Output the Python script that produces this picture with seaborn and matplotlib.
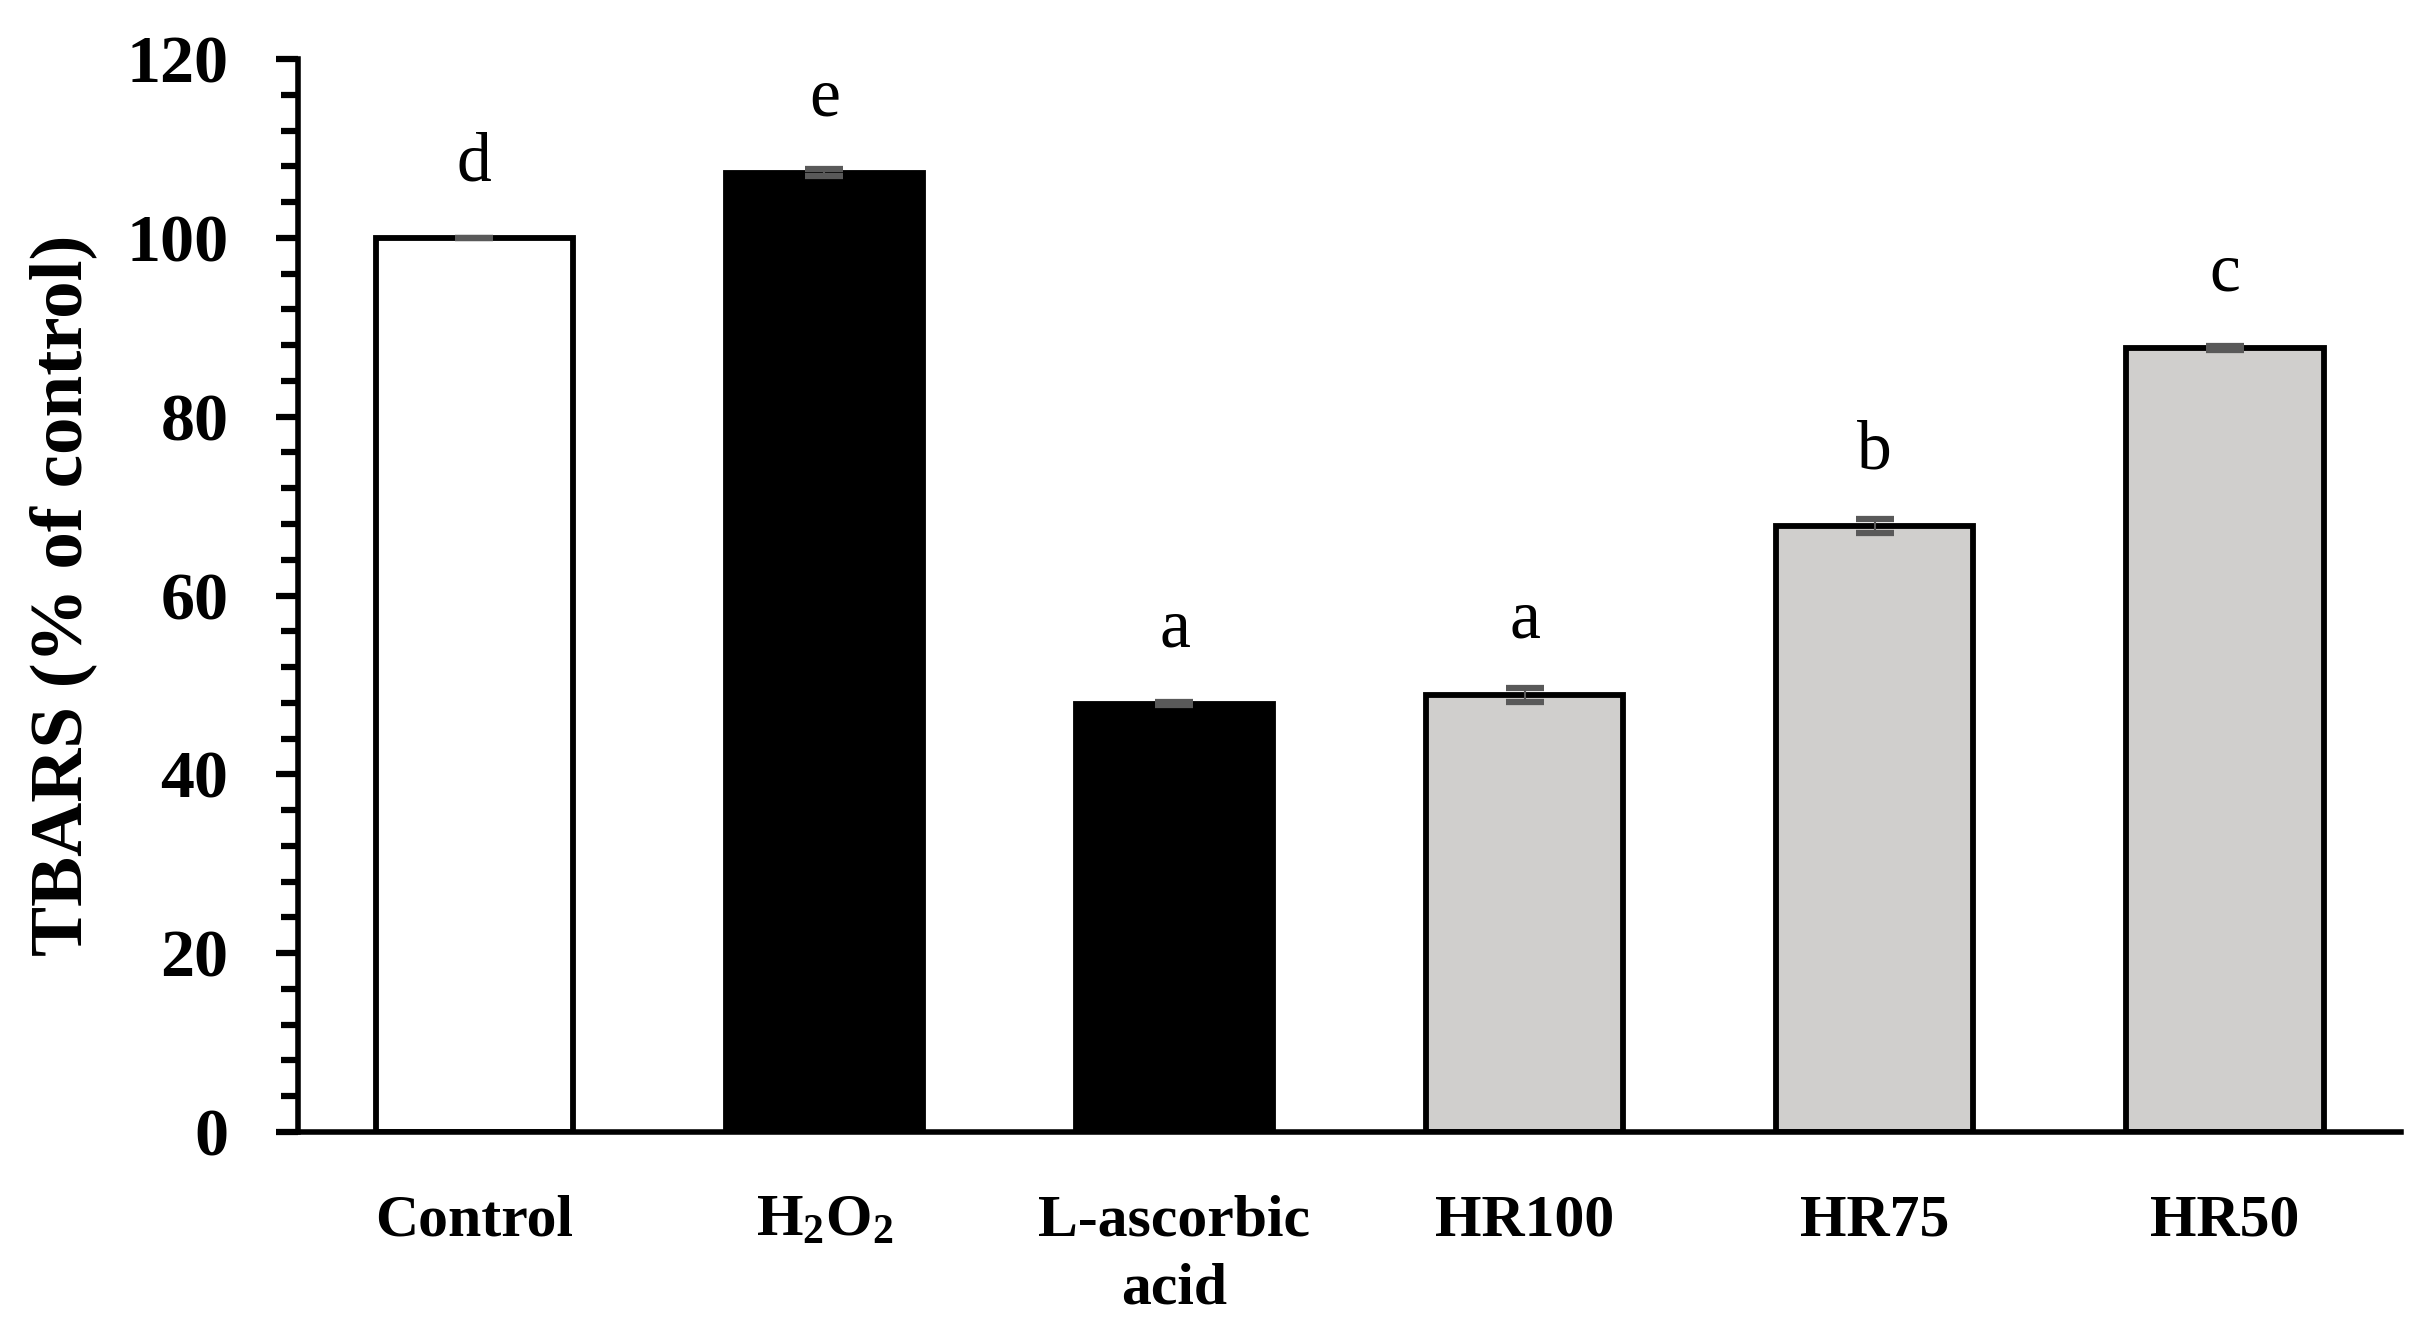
import numpy as np
import pandas as pd
import seaborn as sns
import matplotlib.pyplot as plt
from matplotlib.ticker import MultipleLocator

# data
groups = ["Control", r"$\mathbf{H_2O_2}$", "L-ascorbic\nacid", "HR100", "HR75", "HR50"]
tbars = [100.0, 107.3, 47.9, 48.9, 67.8, 87.7]
sd = [0.0, 0.35, 0.2, 0.8, 0.8, 0.2]
letters = ["d", "e", "a", "a", "b", "c"]
bar_colors = ["white", "black", "black", "#D0CFCD", "#D0CFCD", "#D0CFCD"]

sns.set_style("ticks")
plt.rcParams["font.family"] = ["Liberation Serif", "DejaVu Serif"]
plt.rcParams["mathtext.fontset"] = "custom"
plt.rcParams["mathtext.rm"] = "Liberation Serif"
plt.rcParams["mathtext.bf"] = "Liberation Serif:bold"
for k in ["text.color", "axes.labelcolor", "xtick.color", "ytick.color", "axes.edgecolor"]:
    plt.rcParams[k] = "black"

df = pd.DataFrame({"group": groups, "tbars": tbars})

fig = plt.figure(figsize=(24.31, 13.42), dpi=100)
ax = fig.add_axes([0.1226, 0.1565, 0.8651, 0.7995])

sns.barplot(data=df, x="group", y="tbars", hue="group", palette=bar_colors,
            legend=False, errorbar=None, width=0.563, saturation=1,
            edgecolor="black", linewidth=4.2, ax=ax)

ax.errorbar(np.arange(len(groups)), tbars, yerr=sd, fmt="none",
            ecolor="#595959", elinewidth=1.5, capsize=13.7, capthick=4.5, zorder=5)

# significance letters
for i, (v, l) in enumerate(zip(tbars, letters)):
    ax.annotate(l, (i, v), xytext=(0, 41), textcoords="offset points",
                ha="center", va="baseline", fontsize=50, color="black")

ax.set_xlim(-0.503, 5.503)
ax.set_ylim(0, 120)
ax.yaxis.set_major_locator(MultipleLocator(20))
ax.yaxis.set_minor_locator(MultipleLocator(4))

sns.despine(ax=ax)
for s in ["left", "bottom"]:
    ax.spines[s].set_linewidth(4)
    ax.spines[s].set_color("black")

ax.tick_params(axis="y", which="major", direction="out", length=16, width=4.5,
               pad=34, labelsize=49, color="black", labelcolor="black")
ax.tick_params(axis="y", which="minor", direction="out", length=12, width=4.5, color="black")
ax.tick_params(axis="x", length=0, pad=45, labelsize=43, labelcolor="black")
for t in ax.get_yticklabels() + ax.get_xticklabels():
    t.set_fontweight("bold")
for t in ax.get_xticklabels():
    t.set_linespacing(1.35)

ax.set_xlabel("")
ax.set_ylabel("TBARS (% of control)", fontsize=54, fontweight="bold", color="black")
ax.yaxis.set_label_coords(-0.0956, 0.5)

fig.savefig("out.png", dpi=100)
